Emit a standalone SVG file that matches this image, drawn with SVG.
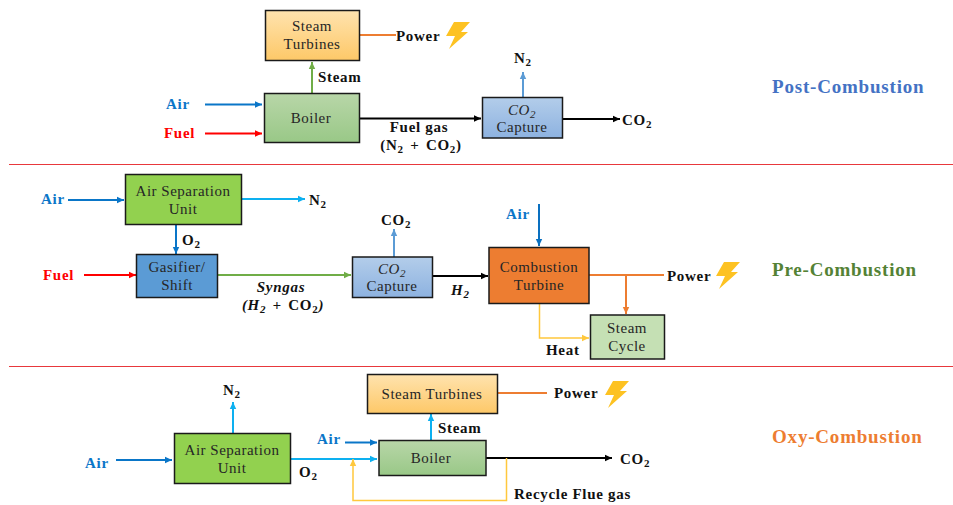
<svg xmlns="http://www.w3.org/2000/svg" width="953" height="505" viewBox="0 0 953 505">
<style>
text{font-family:"Liberation Serif","Times New Roman",serif;font-size:15px;letter-spacing:.5px;fill:#262626}
.l{font-weight:bold;fill:#111;letter-spacing:.7px}
.n{text-anchor:middle}
.m{text-anchor:middle;font-style:italic}
.u{font-style:normal}
.w{word-spacing:2px}
.t{font-weight:bold;font-size:19px;letter-spacing:.8px}
.s{font-size:11px}
.box{stroke:#1a1a1a;stroke-width:1.5}
.c{fill:none;stroke-width:2}
.y{stroke:#ffc83d;stroke-width:1.5}
</style>
<defs>
<linearGradient id="go" x1="0" y1="0" x2="0" y2="1"><stop offset="0" stop-color="#ffe3ae"/><stop offset="1" stop-color="#fdc868"/></linearGradient>
<linearGradient id="gg" x1="0" y1="0" x2="0" y2="1"><stop offset="0" stop-color="#b8d6a8"/><stop offset="1" stop-color="#99c887"/></linearGradient>
<linearGradient id="gb" x1="0" y1="0" x2="0" y2="1"><stop offset="0" stop-color="#b3cdea"/><stop offset="1" stop-color="#8db2e0"/></linearGradient>
<marker id="a" markerUnits="userSpaceOnUse" markerWidth="8" markerHeight="8" refX="7" refY="4" orient="auto"><path d="M0 0.8L7 4L0 7.2z" fill="context-stroke"/></marker>
<path id="bolt" d="M8 0H24L15 10H22L3 27L9 14H0z" fill="#fdc222"/>
</defs>

<g id="separators" stroke="#e8383c" stroke-width="1">
<path d="M9 164.500H953"/>
<path d="M9 366.500H953"/>
</g>

<g id="connectors">
<path class="c" stroke="#70ad47" d="M312 94V62" marker-end="url(#a)"/>
<path class="c" stroke="#ed7d31" d="M360 35H396"/>
<path class="c" stroke="#0a76c8" d="M205 104.500H262" marker-end="url(#a)"/>
<path class="c" stroke="#f00" d="M205 133.500H262" marker-end="url(#a)"/>
<path class="c" stroke="#000" d="M360 118.500H481" marker-end="url(#a)"/>
<path class="c" stroke="#5b9bd5" d="M523 98V72" marker-end="url(#a)"/>
<path class="c" stroke="#000" d="M563 119H620" marker-end="url(#a)"/>

<path class="c" stroke="#0a76c8" d="M68 200H124" marker-end="url(#a)"/>
<path class="c" stroke="#0db0f0" d="M242 199H305" marker-end="url(#a)"/>
<path class="c" stroke="#0a76c8" d="M176 224V254" marker-end="url(#a)"/>
<path class="c" stroke="#f00" d="M84 275H136" marker-end="url(#a)"/>
<path class="c" stroke="#70ad47" d="M218 275H351" marker-end="url(#a)"/>
<path class="c" stroke="#5b9bd5" d="M394 257V229" marker-end="url(#a)"/>
<path class="c" stroke="#000" d="M433 276H488" marker-end="url(#a)"/>
<path class="c" stroke="#0a70c0" d="M539 204V246" marker-end="url(#a)"/>
<path class="c" stroke="#ed7d31" d="M589 275H664"/>
<path class="c" stroke="#ed7d31" d="M626 275V314" marker-end="url(#a)"/>
<path class="c y" d="M539.500 304V338H589" marker-end="url(#a)"/>

<path class="c" stroke="#0a76c8" d="M116 460H172" marker-end="url(#a)"/>
<path class="c" stroke="#0db0f0" d="M233 433V402" marker-end="url(#a)"/>
<path class="c" stroke="#0a76c8" d="M345 442.500H377" marker-end="url(#a)"/>
<path class="c" stroke="#0db0f0" d="M291 459H377" marker-end="url(#a)"/>
<path class="c" stroke="#0db0f0" d="M431 440V414" marker-end="url(#a)"/>
<path class="c" stroke="#ed7d31" d="M497 393H547"/>
<path class="c" stroke="#000" d="M486 458H612" marker-end="url(#a)"/>
<path class="c y" d="M506.500 458V500.500H353V459" marker-end="url(#a)"/>
</g>

<g id="steam-turbines-1"><rect class="box" x="265.500" y="10.500" width="94" height="50" fill="url(#go)"/><text class="n" x="312" y="31">Steam</text><text class="n" x="312" y="49">Turbines</text></g>
<g id="boiler-1"><rect class="box" x="264.500" y="93.500" width="95" height="49" fill="url(#gg)"/><text class="n" x="311" y="123">Boiler</text></g>
<g id="capture-1"><rect class="box" x="482.500" y="97.500" width="80" height="40.500" fill="url(#gb)"/><text class="m" x="522" y="115">CO<tspan class="s" dy="3">2</tspan></text><text class="n" x="522" y="132">Capture</text></g>

<g id="asu-1"><rect class="box" x="125.500" y="174.500" width="116" height="50" fill="#92d14f"/><text class="n" x="183" y="196">Air Separation</text><text class="n" x="183" y="214">Unit</text></g>
<g id="gasifier"><rect class="box" x="136.500" y="254.500" width="81" height="43" fill="#5b9bd5"/><text class="n" x="177" y="272">Gasifier/</text><text class="n" x="177" y="290">Shift</text></g>
<g id="capture-2"><rect class="box" x="352.500" y="257" width="80" height="40.500" fill="url(#gb)"/><text class="m" x="392" y="274">CO<tspan class="s" dy="3">2</tspan></text><text class="n" x="392" y="291">Capture</text></g>
<g id="combustion-turbine"><rect class="box" x="489" y="247.500" width="100" height="56" fill="#ed7d31"/><text class="n" x="539" y="272">Combustion</text><text class="n" x="539" y="290">Turbine</text></g>
<g id="steam-cycle"><rect class="box" x="590.500" y="315" width="74" height="44" fill="#c5e0b4"/><text class="n" x="627" y="333">Steam</text><text class="n" x="627" y="351">Cycle</text></g>

<g id="asu-2"><rect class="box" x="174.500" y="433.500" width="116" height="50" fill="#92d14f"/><text class="n" x="232" y="455">Air Separation</text><text class="n" x="232" y="473">Unit</text></g>
<g id="steam-turbines-2"><rect class="box" x="367.500" y="374.500" width="130" height="39" fill="url(#go)"/><text class="n" x="432" y="399">Steam Turbines</text></g>
<g id="boiler-2"><rect class="box" x="379" y="440.500" width="107" height="35" fill="url(#gg)"/><text class="n" x="431" y="463">Boiler</text></g>

<g id="labels">
<text class="l" x="396" y="41">Power</text><use href="#bolt" x="446" y="22"/>
<text class="l" x="318" y="82">Steam</text>
<text class="l" x="166" y="109" style="fill:#0a76c8">Air</text>
<text class="l" x="164" y="138" style="fill:#f00">Fuel</text>
<text class="l n" x="419" y="132">Fuel gas</text>
<text class="l n w" x="421" y="150">(N<tspan class="s" dy="3">2</tspan><tspan dy="-3"> + CO</tspan><tspan class="s" dy="3">2</tspan><tspan dy="-3">)</tspan></text>
<text class="l" x="514" y="63">N<tspan class="s" dy="3">2</tspan></text>
<text class="l" x="622" y="125">CO<tspan class="s" dy="3">2</tspan></text>
<text class="t" x="772" y="93" style="fill:#4472c4">Post-Combustion</text>

<text class="l" x="41" y="204" style="fill:#0a76c8">Air</text>
<text class="l" x="309" y="205">N<tspan class="s" dy="3">2</tspan></text>
<text class="l" x="182" y="245">O<tspan class="s" dy="3">2</tspan></text>
<text class="l" x="43" y="280" style="fill:#f00">Fuel</text>
<text class="l m" x="281" y="292">Syngas</text>
<text class="l m w" x="283" y="310">(H<tspan class="s" dy="3">2</tspan><tspan dy="-3"> + </tspan><tspan class="u">CO</tspan><tspan class="s u" dy="3">2</tspan><tspan dy="-3">)</tspan></text>
<text class="l" x="381" y="225">CO<tspan class="s" dy="3">2</tspan></text>
<text class="l" x="506" y="219" style="fill:#0a76c8">Air</text>
<text class="l" x="451" y="295" font-style="italic">H<tspan class="s" dy="3">2</tspan></text>
<text class="l" x="667" y="281">Power</text><use href="#bolt" x="716" y="262"/>
<text class="l" x="546" y="355">Heat</text>
<text class="t" x="772" y="276" style="fill:#548235">Pre-Combustion</text>

<text class="l" x="85" y="468" style="fill:#0a76c8">Air</text>
<text class="l" x="223" y="395">N<tspan class="s" dy="3">2</tspan></text>
<text class="l" x="317" y="444" style="fill:#0a76c8">Air</text>
<text class="l" x="299" y="477">O<tspan class="s" dy="3">2</tspan></text>
<text class="l" x="438" y="433">Steam</text>
<text class="l" x="554" y="398">Power</text><use href="#bolt" x="605" y="381"/>
<text class="l" x="620" y="464">CO<tspan class="s" dy="3">2</tspan></text>
<text class="l" x="514" y="499">Recycle Flue gas</text>
<text class="t" x="772" y="443" style="fill:#ed7d31">Oxy-Combustion</text>
</g>
</svg>
